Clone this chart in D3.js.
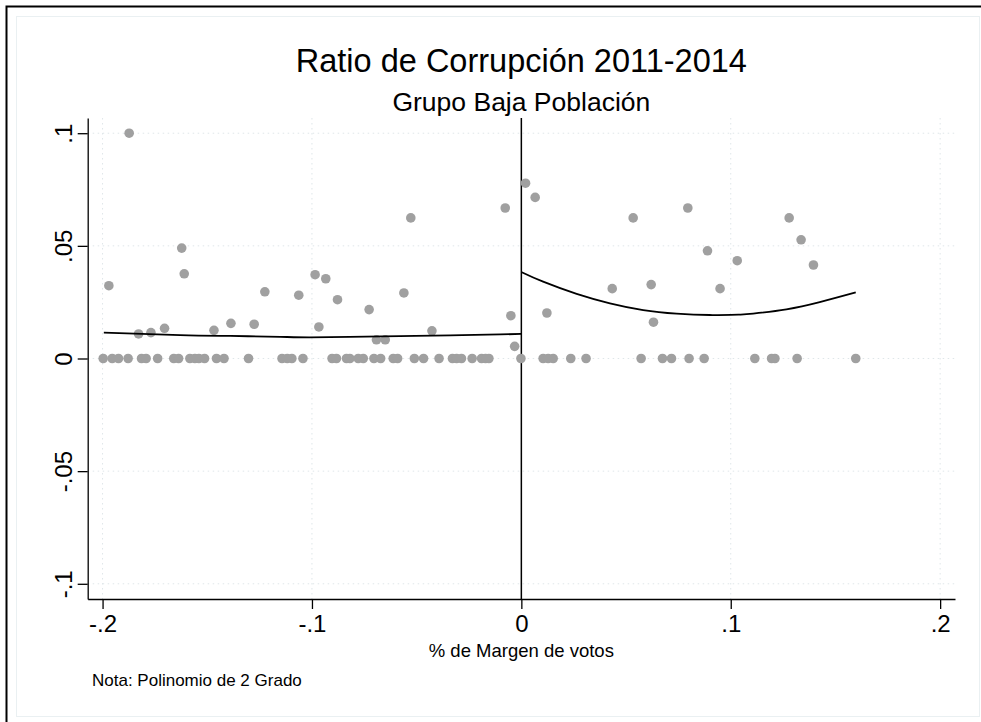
<!DOCTYPE html>
<html>
<head>
<meta charset="utf-8">
<script src="https://cdn.jsdelivr.net/npm/d3@7"></script>
<style>
  body { margin: 0; background: #fff; overflow: hidden; }
  svg { display: block; font-family: "Liberation Sans", Arial, sans-serif; }
</style>
</head>
<body>
<svg id="chart" width="981" height="722"></svg>
<script>
// scatter: vote margin vs corruption ratio
const marginX = [
  -0.1873, -0.1970, -0.1622, -0.1610, -0.1225, -0.1063, -0.1828, -0.1769, -0.1704, -0.1468,
  -0.1387, -0.1276, 0.0020, -0.0077, -0.0528, -0.0985, -0.0934, -0.0878, -0.0727, -0.0561,
  -0.0967, -0.0692, -0.0650, -0.0427, -0.0050, -0.0032, 0.0066, 0.0534, 0.0795, 0.0889,
  0.1031, 0.0434, 0.0620, 0.0949, 0.0122, 0.0631, 0.1279, 0.1336, 0.1395,
  -0.1997, -0.1954, -0.1924, -0.1878, -0.1814, -0.1792, -0.1737, -0.1660, -0.1637, -0.1583,
  -0.1559, -0.1540, -0.1513, -0.1456, -0.1420, -0.1303, -0.1143, -0.1118, -0.1096, -0.1043,
  -0.0904, -0.0883, -0.0835, -0.0819, -0.0779, -0.0755, -0.0704, -0.0672, -0.0612, -0.0591,
  -0.0511, -0.0467, -0.0393, -0.0329, -0.0309, -0.0286, -0.0235, -0.0190, -0.0171, -0.0155,
  -0.0002, 0.0104, 0.0128, 0.0152, 0.0236, 0.0309, 0.0572, 0.0674, 0.0717, 0.0801,
  0.0873, 0.1115, 0.1195, 0.1211, 0.1317, 0.1597
];
const corrRatio = [
  0.1000, 0.0323, 0.0490, 0.0376, 0.0296, 0.0281, 0.0109, 0.0115, 0.0134, 0.0125,
  0.0156, 0.0152, 0.0778, 0.0668, 0.0624, 0.0372, 0.0354, 0.0261, 0.0217, 0.0291,
  0.0140, 0.0083, 0.0083, 0.0123, 0.0190, 0.0054, 0.0715, 0.0624, 0.0668, 0.0478,
  0.0434, 0.0310, 0.0328, 0.0310, 0.0202, 0.0161, 0.0624, 0.0527, 0.0415,
  0, 0, 0, 0, 0, 0, 0, 0, 0, 0,
  0, 0, 0, 0, 0, 0, 0, 0, 0, 0,
  0, 0, 0, 0, 0, 0, 0, 0, 0, 0,
  0, 0, 0, 0, 0, 0, 0, 0, 0, 0,
  0, 0, 0, 0, 0, 0, 0, 0, 0, 0,
  0, 0, 0, 0, 0, 0
];

// quadratic fit (left and right of the cutoff)
const fitLeftX = [-0.1994, -0.163, -0.139, -0.115, -0.101, -0.082, -0.058, -0.034, -0.010, 0];
const fitLeftY = [0.0115, 0.0104, 0.0100, 0.0096, 0.0094, 0.0096, 0.0099, 0.0103, 0.0107, 0.0109];
const fitRightX = [0.0002, 0.0104, 0.0264, 0.0423, 0.0582, 0.0741, 0.0900, 0.1043, 0.1107, 0.1266, 0.1425, 0.1597];
const fitRightY = [0.0383, 0.0341, 0.0287, 0.0245, 0.0215, 0.0199, 0.0193, 0.0195, 0.0199, 0.0218, 0.0250, 0.0293];

const xTicks = [-0.2, -0.1, 0, 0.1, 0.2];
const yTicks = [-0.1, -0.05, 0, 0.05, 0.1];

const svg = d3.select("#chart");

// outer frame, cut at right/bottom like the original export
svg.append("path")
  .attr("d", "M6.5,722V6.5H981")
  .attr("fill", "none").attr("stroke", "#000").attr("stroke-width", 2);
svg.append("rect")
  .attr("x", 16.5).attr("y", 16.5).attr("width", 963).attr("height", 700)
  .attr("fill", "none").attr("stroke", "#eaf0f2").attr("stroke-width", 1);

const plot = { left: 87.7, right: 955, top: 118, bottom: 599 };

const x = d3.scaleLinear().domain([-0.2071, 0.2071]).range([plot.left, plot.right]);
const y = d3.scaleLinear().domain([-0.10675, 0.10675]).range([plot.bottom, plot.top]);

function stataFmt(d) {
  if (Math.abs(d) < 1e-9) return "0";
  return String(+d.toFixed(3)).replace("0.", ".");
}

// grid
const grid = svg.append("g").attr("class", "grid");
grid.selectAll(".hgrid").data(yTicks).enter().append("line")
  .attr("x1", plot.left).attr("x2", plot.right)
  .attr("y1", d => y(d)).attr("y2", d => y(d))
  .attr("stroke", "#dfe6e9").attr("stroke-width", 1)
  .attr("stroke-dasharray", "1.5,3.5");
grid.selectAll(".vgrid").data(xTicks).enter().append("line")
  .attr("y1", plot.top).attr("y2", plot.bottom)
  .attr("x1", d => x(d)).attr("x2", d => x(d))
  .attr("stroke", "#dfe6e9").attr("stroke-width", 1)
  .attr("stroke-dasharray", "1.5,3.5");

// axes
const xAxis = svg.append("g")
  .attr("transform", "translate(0," + plot.bottom + ")")
  .call(d3.axisBottom(x).tickValues(xTicks).tickFormat(stataFmt).tickSize(10).tickSizeOuter(0));
xAxis.attr("font-size", 24).attr("font-family", null);
xAxis.select(".domain").attr("stroke-width", 1.3);
xAxis.selectAll(".tick line").attr("stroke-width", 1.3);
xAxis.selectAll(".tick text")
  .attr("fill", "#000").attr("y", 13).attr("dy", "0.82em");

const yAxis = svg.append("g")
  .attr("transform", "translate(" + plot.left + ",0)")
  .call(d3.axisLeft(y).tickValues(yTicks).tickFormat(stataFmt).tickSize(10).tickSizeOuter(0));
yAxis.attr("font-size", 24).attr("font-family", null);
yAxis.select(".domain").attr("stroke-width", 1.3);
yAxis.selectAll(".tick line").attr("stroke-width", 1.3);
yAxis.selectAll(".tick text")
  .attr("fill", "#000")
  .attr("x", 0).attr("dy", 0)
  .attr("text-anchor", "middle")
  .attr("transform", "translate(-16,0) rotate(-90)");

// cutoff line
svg.append("line")
  .attr("x1", x(0)).attr("x2", x(0))
  .attr("y1", plot.top).attr("y2", plot.bottom)
  .attr("stroke", "#000").attr("stroke-width", 1.5);

// points
const pts = marginX.map((d, i) => ({ mx: d, cr: corrRatio[i] }));
svg.append("g").selectAll("circle").data(pts).enter().append("circle")
  .attr("cx", d => x(d.mx)).attr("cy", d => y(d.cr))
  .attr("r", 4.8).attr("fill", "#a0a0a0");

// fits
const fitLine = d3.line().x(d => x(d[0])).y(d => y(d[1])).curve(d3.curveNatural);
svg.append("path")
  .attr("d", fitLine(d3.zip(fitLeftX, fitLeftY)))
  .attr("fill", "none").attr("stroke", "#000").attr("stroke-width", 1.8);
svg.append("path")
  .attr("d", fitLine(d3.zip(fitRightX, fitRightY)))
  .attr("fill", "none").attr("stroke", "#000").attr("stroke-width", 1.8);

// titles
const cx = (plot.left + plot.right) / 2;
svg.append("text").attr("x", cx).attr("y", 72)
  .attr("text-anchor", "middle").attr("font-size", 32.5).text("Ratio de Corrupción 2011-2014");
svg.append("text").attr("x", cx).attr("y", 111)
  .attr("text-anchor", "middle").attr("font-size", 26.5).text("Grupo Baja Población");
svg.append("text").attr("x", cx).attr("y", 657)
  .attr("text-anchor", "middle").attr("font-size", 18.5).text("% de Margen de votos");
svg.append("text").attr("x", 92).attr("y", 686)
  .attr("font-size", 17).text("Nota: Polinomio de 2 Grado");
</script>
</body>
</html>
